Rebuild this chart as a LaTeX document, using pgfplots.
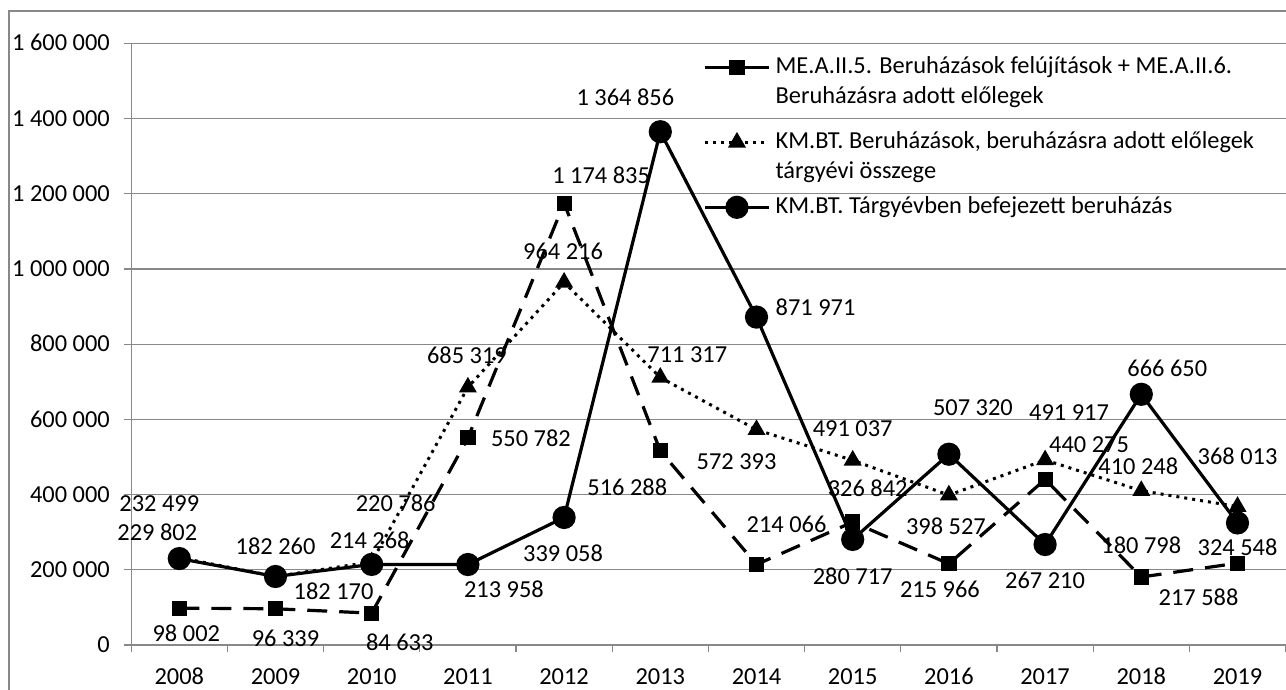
\documentclass[border=0pt]{standalone}
\usepackage{fontspec}
\setmainfont{Carlito}
\usepackage{pgfplots}
\pgfplotsset{compat=1.18}
\definecolor{gridgray}{HTML}{888888}

\begin{document}
\fontsize{12.2}{14.6}\selectfont
\begin{tikzpicture}
\begin{axis}[
  at={(0pt,0pt)}, anchor=south west,
  scale only axis, width=577.2pt, height=300.85pt,
  xmin=-0.5, xmax=11.5, ymin=0, ymax=1600000,
  clip=false,
  axis x line*=bottom, axis y line*=left,
  axis line style={gridgray, line width=0.6pt},
  tick align=outside,
  xtick={0,...,11},
  xticklabels={2008,2009,2010,2011,2012,2013,2014,2015,2016,2017,2018,2019},
  major x tick style={draw=none},
  minor xtick={-0.5,0.5,...,11.5},
  minor x tick style={gridgray, line width=0.6pt},
  minor tick length=3.5pt,
  major tick length=3.5pt,
  ytick={0,200000,...,1600000},
  ytick style={gridgray, line width=0.6pt},
  ymajorgrids,
  grid style={gridgray, line width=0.6pt},
  scaled y ticks=false,
  /pgf/number format/fixed,
  /pgf/number format/precision=0,
  /pgf/number format/1000 sep={\ },
  /pgf/number format/assume math mode=true,
  yticklabel style={anchor=east, inner sep=0pt, xshift=-7pt, text height=7.7pt, text depth=0pt},
  xticklabel style={anchor=center, inner sep=0pt, yshift=-12.5pt, text height=7.7pt, text depth=0pt},
  legend style={draw=none, fill=none, at={(rel axis cs:0.4953,0.981)}, anchor=north west,
    inner sep=0pt, row sep=2.8pt, column sep=2.5pt,
    nodes={inner sep=0pt, text height=9pt, text depth=3.2pt}},
  legend cell align=left,
  legend image code/.code={\draw[mark repeat=2,mark phase=2,#1] plot coordinates {(0pt,0pt) (16pt,0pt) (32pt,0pt)};},
  nodes near coords,
  point meta=explicit symbolic,
  visualization depends on={value \thisrow{dx}\as\dx},
  visualization depends on={value \thisrow{dy}\as\dy},
  every node near coord/.append style={anchor=center, inner sep=0pt, xshift=\dx pt, yshift=\dy pt, text=black, text height=7.7pt, text depth=0pt},
]

% ME.A.II.5 + ME.A.II.6
\addplot[forget plot, black, line width=1.6pt, dash pattern=on 10pt off 6pt,
  mark=square*, mark size=3pt, mark options={solid}]
  table[x=x, y=y, meta=lab, col sep=comma] {
x,y,lab,dx,dy
0,98002,98 002,3.5,-13
1,96339,96 339,5,-15
2,84633,84 633,14,-15
3,550782,550 782,31.5,-0.5
4,1174835,1 174 835,18.5,13.5
5,516288,516 288,-16.5,-18.5
6,214066,214 066,15,20
7,326842,326 842,7.5,16.5
8,215966,215 966,-4.5,-13
9,440275,440 275,22,17.3
10,180798,180 798,0,15.5
11,217588,217 588,-19.5,-17.4
};

% KM.BT. Beruhazasok
\addplot[forget plot, black, line width=1.5pt, dash pattern=on 1.5pt off 2.5pt,
  mark=triangle*, mark size=3.7pt, mark options={solid}]
  table[x=x, y=y, meta=lab, col sep=comma] {
x,y,lab,dx,dy
0,232499,232 499,-10,27
1,182260,182 260,0,15
2,220786,220 786,12,29
3,685319,685 319,-0.5,15.5
4,964216,964 216,-0.5,15.5
5,711317,711 317,13.5,11.5
6,572393,572 393,-10,-16
7,491037,491 037,0,16
8,398527,398 527,-1.5,-16
9,491917,491 917,12,23.5
10,410248,410 248,-1.5,11.9
11,368013,368 013,0,24.8
};

% KM.BT. Targyevben befejezett
\addplot[forget plot, black, line width=1.6pt, solid,
  mark=*, mark size=5pt]
  table[x=x, y=y, meta=lab, col sep=comma] {
x,y,lab,dx,dy
0,229802,229 802,-11,13
1,182170,182 170,29,-7.5
2,214268,214 268,-1,11.75
3,213958,213 958,18,-12.5
4,339058,339 058,-0.5,-18
5,1364856,1 364 856,-17.5,17
6,871971,871 971,29.5,4.5
7,280717,280 717,0,-18.8
8,507320,507 320,12,23
9,267210,267 210,0,-18.3
10,666650,666 650,13,12.7
11,324548,324 548,0,-12.5
};

\addlegendimage{black, line width=1.6pt, solid, mark=square*, mark size=3pt}
\addlegendentry{ME.A.II.5. Beruházások felújítások + ME.A.II.6.}
\addlegendimage{empty legend}
\addlegendentry[text depth=10.7pt]{Beruházásra adott előlegek}
\addlegendimage{black, line width=1.5pt, dash pattern=on 1.5pt off 2.5pt, mark=triangle*, mark size=3.7pt, mark options={solid}}
\addlegendentry{KM.BT. Beruházások, beruházásra adott előlegek}
\addlegendimage{empty legend}
\addlegendentry[text depth=5.7pt]{tárgyévi összege}
\addlegendimage{black, line width=1.6pt, solid, mark=*, mark size=5pt}
\addlegendentry{KM.BT. Tárgyévben befejezett beruházás}
\end{axis}
\draw[gridgray, line width=0.6pt] (-61.1pt,-30pt) -- (-61.1pt,317pt) -- (580pt,317pt);
\pgfresetboundingbox
\path[use as bounding box] (-65.6pt,-22.5pt) rectangle (577.4pt,322.5pt);
\end{tikzpicture}
\end{document}
